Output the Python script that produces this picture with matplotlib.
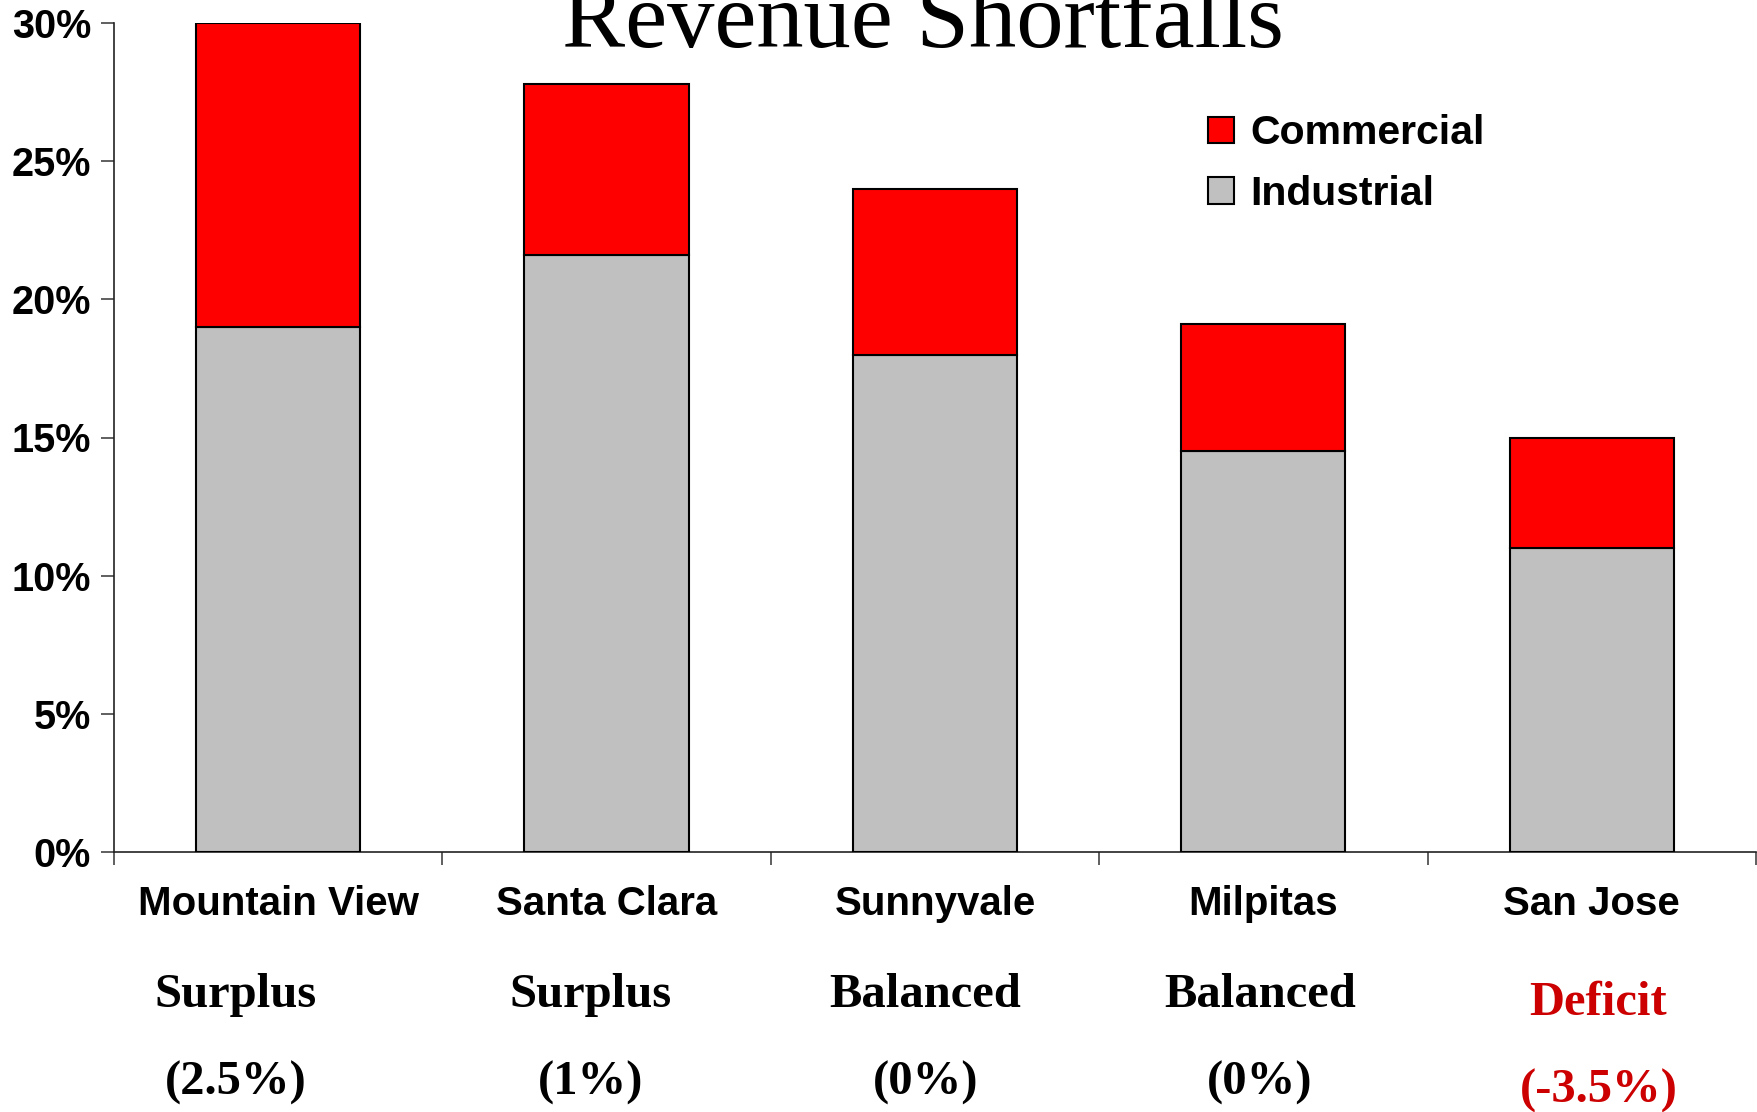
import matplotlib
matplotlib.use('Agg')
import matplotlib.pyplot as plt
import matplotlib.transforms as mtransforms
from matplotlib.ticker import FuncFormatter

# Data (percent)
cities = ['Mountain View', 'Santa Clara', 'Sunnyvale', 'Milpitas', 'San Jose']
industrial = [19.0, 21.6, 18.0, 14.5, 11.0]
commercial = [11.0, 6.2, 6.0, 4.6, 4.0]
status = ['Surplus', 'Surplus', 'Balanced', 'Balanced', 'Deficit']
balance = ['(2.5%)', '(1%)', '(0%)', '(0%)', '(-3.5%)']

# small horizontal shifts of the status labels (in category units) and colours
label_shift = [-0.13, -0.05, -0.03, -0.01, 0.02]
label_color = ['black', 'black', 'black', 'black', '#CC0000']

sans = 'Liberation Sans'
serif = 'Liberation Serif'

fig = plt.figure(figsize=(17.58, 11.12), dpi=100)
ax = fig.add_axes([114 / 1758, 1 - 852 / 1112, (1756 - 114) / 1758, (852 - 23) / 1112])

x = list(range(len(cities)))
ax.bar(x, industrial, width=0.5, color='#C0C0C0', edgecolor='black', linewidth=1.5,
       label='Industrial', zorder=3)
ax.bar(x, commercial, width=0.5, bottom=industrial, color='#FF0000', edgecolor='black',
       linewidth=1.5, label='Commercial', zorder=3)

ax.set_xlim(-0.5, len(cities) - 0.5)
ax.set_ylim(0, 30)
ax.set_yticks(range(0, 31, 5))
ax.yaxis.set_major_formatter(FuncFormatter(lambda v, p: f'{int(v)}%'))
ax.set_xticks([i - 0.5 for i in range(len(cities) + 1)])
ax.set_xticklabels([])

for s in ['top', 'right']:
    ax.spines[s].set_visible(False)
for s in ['left', 'bottom']:
    ax.spines[s].set_color('#222222')
    ax.spines[s].set_linewidth(1.2)
ax.tick_params(axis='both', direction='out', length=9.5, width=1.2, color='#444444')
ax.tick_params(axis='y', pad=7)
for lab in ax.get_yticklabels():
    lab.set_fontfamily(sans)
    lab.set_fontweight('bold')
    lab.set_fontsize(28.5)

# labels under the axis: x in data units, y in figure units
trans = mtransforms.blended_transform_factory(ax.transData, fig.transFigure)
for i, name in enumerate(cities):
    ax.text(i, 1 - 915 / 1112, name, transform=trans, ha='center', va='baseline',
            fontfamily=sans, fontweight='bold', fontsize=29)
    drop = 8 if label_color[i] != 'black' else 0
    ax.text(i + label_shift[i], 1 - (1007 + drop) / 1112, status[i], transform=trans,
            ha='center', va='baseline', fontfamily=serif, fontweight='bold', fontsize=35,
            color=label_color[i])
    ax.text(i + label_shift[i], 1 - (1095 + drop) / 1112, balance[i], transform=trans,
            ha='center', va='baseline', fontfamily=serif, fontweight='bold', fontsize=35,
            color=label_color[i])

# title, partly cut off at the top like the original
fig.text(923 / 1758, 1 - 47 / 1112, 'Revenue Shortfalls', ha='center', va='baseline',
         fontfamily=serif, fontsize=68)

handles, labels = ax.get_legend_handles_labels()
leg = ax.legend(handles[::-1], labels[::-1], loc='upper left',
                bbox_to_anchor=(1192 / 1758, 1 - 98 / 1112), bbox_transform=fig.transFigure,
                frameon=False, handlelength=0.62, handleheight=0.62, handletextpad=0.4,
                labelspacing=0.55, borderaxespad=0,
                prop={'family': sans, 'weight': 'bold', 'size': 29.5})

plt.savefig('out.png', dpi=100)
